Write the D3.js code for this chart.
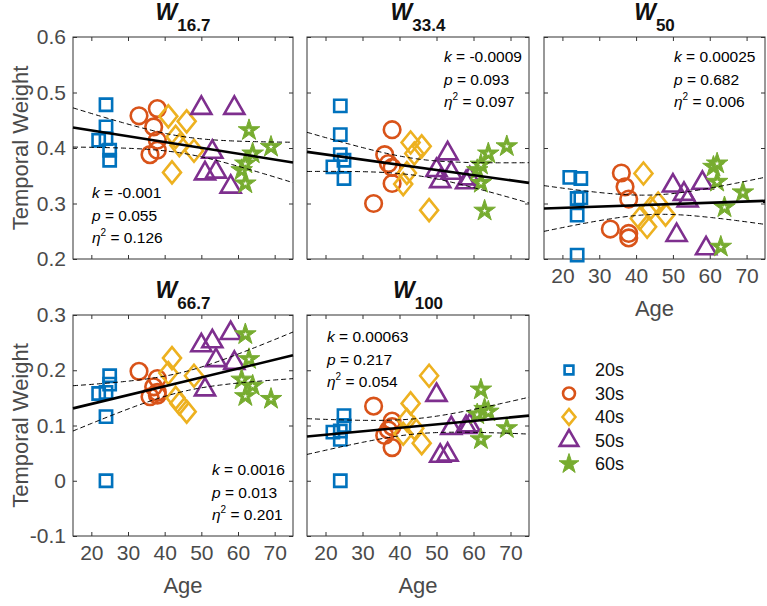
<!DOCTYPE html>
<html>
<head>
<meta charset="utf-8">
<script src="https://cdn.jsdelivr.net/npm/d3@7"></script>
<style>
  body { margin: 0; background: #fff; }
  svg { font-family: "Liberation Sans", Arial, Helvetica, sans-serif; }
</style>
</head>
<body>
<svg id="chart" width="767" height="606"></svg>
<script>
// age groups, MATLAB default colour order
var groups = ["20s", "30s", "40s", "50s", "60s"];
var colors = ["#0072BD", "#D95319", "#EDB120", "#7E2F8E", "#77AC30"];

// subject ages, one row per group
var ages = [
  [22, 24, 24, 24, 25, 25],
  [33, 36, 37, 38, 38, 38],
  [41, 42, 43, 44, 46, 48],
  [50, 51, 53, 54, 58, 59],
  [61, 62, 62, 63, 64, 69]
];

// temporal weights per panel, same layout as ages
var w167 = [
  [0.414, 0.478, 0.438, 0.417, 0.396, 0.378],
  [0.458, 0.388, 0.438, 0.471, 0.414, 0.396],
  [0.457, 0.356, 0.420, 0.405, 0.448, 0.395],
  [0.472, 0.354, 0.393, 0.357, 0.330, 0.472],
  [0.360, 0.372, 0.336, 0.432, 0.390, 0.402]
];
var w334 = [
  [0.366, 0.476, 0.424, 0.388, 0.378, 0.345],
  [0.300, 0.388, 0.372, 0.433, 0.365, 0.336],
  [0.335, 0.355, 0.410, 0.390, 0.403, 0.288],
  [0.360, 0.340, 0.390, 0.355, 0.338, 0.345],
  [0.360, 0.370, 0.337, 0.287, 0.390, 0.403]
];
var w50 = [
  [0.347, 0.309, 0.279, 0.207, 0.345, 0.310],
  [0.254, 0.355, 0.330, 0.308, 0.246, 0.238],
  [0.273, 0.354, 0.258, 0.292, 0.300, 0.280],
  [0.332, 0.243, 0.317, 0.305, 0.337, 0.219],
  [0.366, 0.372, 0.339, 0.222, 0.293, 0.320]
];
var w667 = [
  [0.158, 0.000, 0.116, 0.160, 0.190, 0.175],
  [0.198, 0.152, 0.170, 0.185, 0.160, 0.155],
  [0.195, 0.222, 0.150, 0.140, 0.125, 0.190],
  [0.245, 0.165, 0.252, 0.218, 0.267, 0.213],
  [0.183, 0.265, 0.153, 0.220, 0.172, 0.148]
];
var w100 = [
  [0.088, 0.000, 0.075, 0.090, 0.118, 0.100],
  [0.135, 0.082, 0.092, 0.108, 0.098, 0.060],
  [0.085, 0.110, 0.140, 0.095, 0.068, 0.190],
  [0.155, 0.045, 0.047, 0.095, 0.097, 0.100],
  [0.120, 0.165, 0.075, 0.130, 0.125, 0.095]
];

var titles = ["16.7", "33.4", "50", "66.7", "100"];
var slopes = [-0.00105, -0.00093, 0.00023, 0.0016, 0.00063];
var fitAt15 = [0.437, 0.393, 0.291, 0.131, 0.080];   // fitted weight at age 15
var kText = ["-0.001", "-0.0009", "0.00025", "0.0016", "0.00063"];
var pText = ["0.055", "0.093", "0.682", "0.013", "0.217"];
var etaText = ["0.126", "0.097", "0.006", "0.201", "0.054"];

var xTicks = [20, 30, 40, 50, 60, 70];
var yTicksTop = [0.2, 0.3, 0.4, 0.5, 0.6];
var yTicksBottom = [-0.1, 0, 0.1, 0.2, 0.3];

var svg = d3.select("#chart");
var axisColor = "#333";
var labelColor = "#4a4a4a";

var panels = [
  {data: w167, x0: 73,  x1: 293, y0: 37,  y1: 259, yt: yTicksTop,    yLab: true,  xLab: false, sx: 92,  sy: 198},
  {data: w334, x0: 307, x1: 529, y0: 37,  y1: 259, yt: yTicksTop,    yLab: false, xLab: false, sx: 444, sy: 62},
  {data: w50,  x0: 544, x1: 765, y0: 37,  y1: 259, yt: yTicksTop,    yLab: false, xLab: true,  sx: 674, sy: 62},
  {data: w667, x0: 73,  x1: 293, y0: 315, y1: 536, yt: yTicksBottom, yLab: true,  xLab: true,  sx: 212, sy: 475},
  {data: w100, x0: 307, x1: 529, y0: 315, y1: 536, yt: yTicksBottom, yLab: false, xLab: true,  sx: 327, sy: 342}
];

function marker(i, s) {
  if (i === 0) return d3.symbol(d3.symbolSquare, 150 * s * s)();
  if (i === 1) return d3.symbol(d3.symbolCircle, Math.PI * 8.3 * 8.3 * s * s)();
  if (i === 2) {
    var w = 9 * s, h = 11 * s;
    return "M0," + (-h) + "L" + w + ",0L0," + h + "L" + (-w) + ",0Z";
  }
  if (i === 3) return d3.symbol(d3.symbolTriangle, 175 * s * s)();
  return d3.symbol(d3.symbolStar, 145 * s * s)();
}

function fmt(d) { return d === 0 ? "0" : String(+d.toFixed(1)); }

panels.forEach(function(p, pi) {
  var x = d3.scaleLinear().domain([15, 75]).range([p.x0, p.x1]);
  var y = d3.scaleLinear().domain([p.yt[0], p.yt[p.yt.length - 1]]).range([p.y1, p.y0]);
  var g = svg.append("g");

  // axes with inward ticks, mirrored on top/right
  var left = g.append("g").attr("transform", "translate(" + p.x0 + ",0)")
    .call(d3.axisLeft(y).tickValues(p.yt).tickSizeInner(-4).tickSizeOuter(0).tickPadding(7)
      .tickFormat(p.yLab ? fmt : ""));
  var right = g.append("g").attr("transform", "translate(" + p.x1 + ",0)")
    .call(d3.axisRight(y).tickValues(p.yt).tickSizeInner(-4).tickSizeOuter(0).tickFormat(""));
  var bottom = g.append("g").attr("transform", "translate(0," + p.y1 + ")")
    .call(d3.axisBottom(x).tickValues(xTicks).tickSizeInner(-4).tickSizeOuter(0).tickPadding(9)
      .tickFormat(p.xLab ? d3.format("d") : ""));
  var top = g.append("g").attr("transform", "translate(0," + p.y0 + ")")
    .call(d3.axisTop(x).tickValues(xTicks).tickSizeInner(-4).tickSizeOuter(0).tickFormat(""));
  [left, right, bottom, top].forEach(function(a) {
    a.select(".domain").remove();
    a.selectAll("line").attr("stroke", axisColor);
    a.selectAll("text").attr("fill", labelColor).attr("font-size", 21)
      .attr("font-family", "Liberation Sans, Arial, sans-serif");
  });
  g.append("rect").attr("x", p.x0).attr("y", p.y0)
    .attr("width", p.x1 - p.x0).attr("height", p.y1 - p.y0)
    .attr("fill", "none").attr("stroke", axisColor).attr("stroke-width", 1);

  // title W_sub
  var t = g.append("text").attr("x", (p.x0 + p.x1) / 2).attr("y", p.y0 - 17)
    .attr("text-anchor", "middle").attr("font-weight", "bold").attr("fill", "#111");
  t.append("tspan").attr("font-style", "italic").attr("font-size", 23).text("W");
  t.append("tspan").attr("font-size", 17).attr("dy", 11).text(titles[pi]);

  if (p.yLab) {
    g.append("text")
      .attr("transform", "translate(28," + (p.y0 + p.y1) / 2 + ") rotate(-90)")
      .attr("text-anchor", "middle").attr("font-size", 22).attr("fill", labelColor)
      .text("Temporal Weight");
  }
  if (p.xLab) {
    g.append("text").attr("x", (p.x0 + p.x1) / 2).attr("y", p.y1 + 57)
      .attr("text-anchor", "middle").attr("font-size", 22).attr("fill", labelColor)
      .text("Age");
  }

  // markers
  p.data.forEach(function(vals, gi) {
    var pts = vals.map(function(v, j) { return [ages[gi][j], v]; });
    var m = g.append("g").selectAll("g").data(pts).enter().append("g")
      .attr("transform", function(d) { return "translate(" + x(d[0]) + "," + y(d[1]) + ")"; });
    m.append("path").attr("d", marker(gi, 1))
      .attr("fill", gi === 4 ? colors[gi] : "none")
      .attr("stroke", colors[gi]).attr("stroke-width", gi === 4 ? 1 : 2.6);
    if (gi === 4) {
      m.append("path").attr("d", d3.symbol(d3.symbolStar, 7)()).attr("fill", "#fff");
    }
  });

  // regression line + 95% confidence band
  var all = [];
  p.data.forEach(function(vals, gi) {
    vals.forEach(function(v, j) { all.push([ages[gi][j], v]); });
  });
  var fit = function(a) { return fitAt15[pi] + slopes[pi] * (a - 15); };
  var n = all.length;
  var xbar = d3.mean(all, function(d) { return d[0]; });
  var sxx = d3.sum(all, function(d) { return (d[0] - xbar) * (d[0] - xbar); });
  var s = Math.sqrt(d3.sum(all, function(d) { return Math.pow(d[1] - fit(d[0]), 2); }) / (n - 2));
  var tcrit = 2.048;
  var grid = d3.range(15, 75.001, 0.5);
  var hw = function(a) { return tcrit * s * Math.sqrt(1 / n + (a - xbar) * (a - xbar) / sxx); };

  var line = d3.line().x(function(d) { return x(d[0]); }).y(function(d) { return y(d[1]); });
  g.append("path").datum(grid.map(function(a) { return [a, fit(a) + hw(a)]; }))
    .attr("d", line).attr("fill", "none").attr("stroke", "#000")
    .attr("stroke-width", 1).attr("stroke-dasharray", "5,3");
  g.append("path").datum(grid.map(function(a) { return [a, fit(a) - hw(a)]; }))
    .attr("d", line).attr("fill", "none").attr("stroke", "#000")
    .attr("stroke-width", 1).attr("stroke-dasharray", "5,3");
  g.append("path").datum([[15, fit(15)], [75, fit(75)]])
    .attr("d", line).attr("fill", "none").attr("stroke", "#000").attr("stroke-width", 2.6);

  // statistics
  var st = g.append("g").attr("font-size", 15.5).attr("fill", "#000");
  var l1 = st.append("text").attr("x", p.sx).attr("y", p.sy);
  l1.append("tspan").attr("font-style", "italic").text("k");
  l1.append("tspan").text(" = " + kText[pi]);
  var l2 = st.append("text").attr("x", p.sx).attr("y", p.sy + 22.5);
  l2.append("tspan").attr("font-style", "italic").text("p");
  l2.append("tspan").text(" = " + pText[pi]);
  var l3 = st.append("text").attr("x", p.sx).attr("y", p.sy + 45);
  l3.append("tspan").attr("font-style", "italic").text("η");
  l3.append("tspan").attr("font-size", 10).attr("dy", -7).text("2");
  l3.append("tspan").attr("dy", 7).text(" = " + etaText[pi]);
});

// legend
var legend = svg.append("g");
var rows = legend.selectAll("g").data(groups).enter().append("g")
  .attr("transform", function(d, i) { return "translate(569," + (370 + i * 23.5) + ")"; });
rows.append("path").attr("d", function(d, i) { return marker(i, i > 2 ? 0.92 : 0.72); })
  .attr("fill", function(d, i) { return i === 4 ? colors[i] : "none"; })
  .attr("stroke", function(d, i) { return colors[i]; })
  .attr("stroke-width", function(d, i) { return i === 4 ? 1 : 2.6; });
rows.append("text").attr("x", 26).attr("dy", "0.36em")
  .attr("font-size", 18).attr("fill", "#111")
  .text(function(d) { return d; });
</script>
</body>
</html>
